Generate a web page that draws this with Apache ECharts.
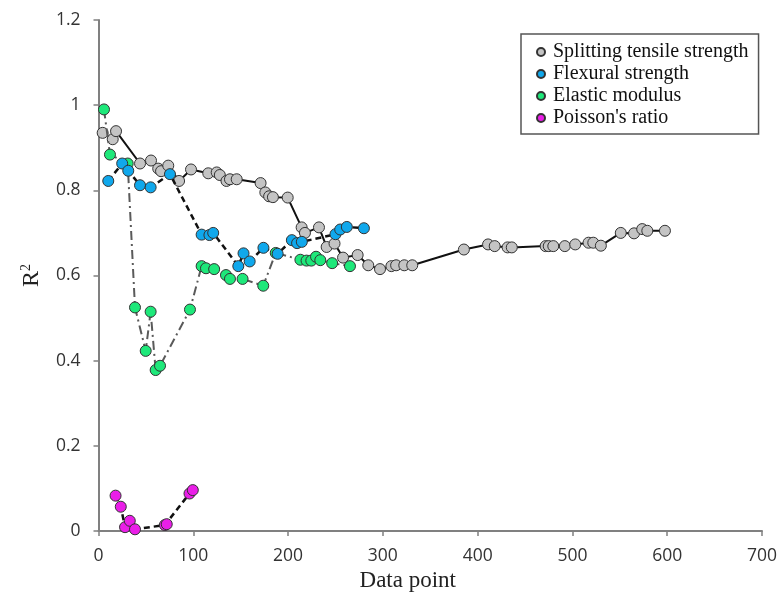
<!DOCTYPE html>
<html>
<head>
<meta charset="utf-8">
<script src="https://cdn.jsdelivr.net/npm/echarts@6/dist/echarts.min.js"></script>
<style>
html,body{margin:0;padding:0;background:#fff;}
#chart{width:779px;height:595px;}
</style>
</head>
<body>
<div id="chart"></div>
<script>
// Splitting tensile strength
const splitX = [4.4, 15, 18.5, 43.8, 55.4, 63, 66, 73.6, 85, 97.6, 115.8, 124.7, 128, 135, 138.7, 145.8, 171, 176, 180, 184, 199.6, 214.3, 217.8, 232.6, 240.7, 249, 258, 273.4, 284.6, 297, 309, 314, 322.6, 331, 385.5, 411, 418, 431.6, 436, 471.7, 475, 479.8, 492, 503, 517, 522, 530, 551, 565, 573.6, 579, 597.6];
const splitY = [0.935, 0.92, 0.939, 0.863, 0.87, 0.851, 0.845, 0.858, 0.822, 0.849, 0.84, 0.842, 0.836, 0.822, 0.826, 0.826, 0.817, 0.795, 0.786, 0.784, 0.783, 0.713, 0.700, 0.713, 0.667, 0.675, 0.642, 0.648, 0.624, 0.615, 0.622, 0.624, 0.624, 0.624, 0.661, 0.673, 0.669, 0.666, 0.666, 0.669, 0.669, 0.669, 0.669, 0.673, 0.677, 0.677, 0.670, 0.700, 0.699, 0.709, 0.705, 0.705];
// Flexural strength
const flexX = [10.3, 25, 31.4, 43.8, 55, 75.4, 108.8, 117, 121, 147.5, 153, 159.5, 174, 189, 204, 209.5, 214.5, 250, 255, 262, 280];
const flexY = [0.822, 0.863, 0.846, 0.812, 0.807, 0.838, 0.696, 0.695, 0.700, 0.622, 0.652, 0.633, 0.665, 0.651, 0.683, 0.676, 0.679, 0.697, 0.708, 0.714, 0.711];
// Elastic modulus
const elasX = [5.8, 12.1, 30.8, 38.5, 49.8, 55, 60.3, 64.9, 96.5, 108.8, 113.4, 122, 134.5, 138.7, 152, 173.8, 187, 213, 219.5, 224.5, 229.5, 234, 246.5, 265.3];
const elasY = [0.99, 0.884, 0.863, 0.525, 0.423, 0.515, 0.378, 0.388, 0.52, 0.622, 0.617, 0.615, 0.601, 0.592, 0.592, 0.576, 0.653, 0.637, 0.635, 0.635, 0.644, 0.636, 0.629, 0.622];
// Poisson's ratio
const poisX = [18, 23.5, 28, 33, 38.5, 70, 72, 96, 99.5];
const poisY = [0.083, 0.057, 0.009, 0.024, 0.004, 0.014, 0.016, 0.088, 0.096];

const xTicks = [0, 100, 200, 300, 400, 500, 600, 700];
const yTicks = [0, 0.2, 0.4, 0.6, 0.8, 1, 1.2];

const zip = (xs, ys) => xs.map((x, i) => [x, ys[i]]);

const chart = echarts.init(document.getElementById('chart'));
const marker = (fill) => ({ color: fill, borderColor: '#333', borderWidth: 1 });
chart.setOption({
  animation: false,
  backgroundColor: '#fff',
  grid: { left: 98.5, right: 17, top: 20, bottom: 64, containLabel: false, outerBoundsMode: 'none' },
  legend: {
    orient: 'vertical',
    left: 521, top: 34,
    data: ['Splitting tensile strength', 'Flexural strength', 'Elastic modulus', "Poisson's ratio"],
    icon: 'circle',
    itemWidth: 8, itemHeight: 8, itemGap: 0,
    padding: [7, 10, 5, 15],
    borderColor: '#555', borderWidth: 1.5,
    textStyle: { fontFamily: 'Liberation Serif', fontSize: 20, color: '#111', lineHeight: 22, padding: [0, 0, 0, 3] }
  },
  xAxis: {
    type: 'value', min: xTicks[0], max: xTicks[xTicks.length - 1], interval: 100,
    name: 'Data point', nameLocation: 'middle', nameGap: 38,
    nameTextStyle: { fontFamily: 'Liberation Serif', fontSize: 23, color: '#222', padding: [0, 45, 0, 0] },
    axisLine: { lineStyle: { color: '#808080', width: 2 } },
    axisTick: { show: true, length: 5, lineStyle: { color: '#808080', width: 1.5 } },
    axisLabel: { margin: 16, fontFamily: 'Open Sans', fontSize: 17.5, color: '#333' },
    splitLine: { show: false }
  },
  yAxis: {
    type: 'value', min: yTicks[0], max: yTicks[yTicks.length - 1], interval: 0.2,
    name: '{r|R}{s|2}', nameLocation: 'middle', nameGap: 55,
    nameTextStyle: { rich: {
      r: { fontFamily: 'Liberation Serif', fontSize: 24, color: '#222' },
      s: { fontFamily: 'Liberation Serif', fontSize: 14, color: '#222', verticalAlign: 'top', padding: [0, 0, 10, 0] }
    } },
    axisLine: { show: true, lineStyle: { color: '#808080', width: 2 } },
    axisTick: { show: true, length: 5, lineStyle: { color: '#808080', width: 1.5 } },
    axisLabel: { margin: 18, fontFamily: 'Open Sans', fontSize: 17.5, color: '#333' },
    splitLine: { show: false }
  },
  series: [
    {
      name: 'Splitting tensile strength', type: 'line', data: zip(splitX, splitY),
      symbol: 'circle', symbolSize: 11, itemStyle: marker('#c4c4c4'),
      lineStyle: { color: '#111', width: 2 }, z: 2
    },
    {
      name: 'Elastic modulus', type: 'line', data: zip(elasX, elasY),
      symbol: 'circle', symbolSize: 11, itemStyle: marker('#1ee87a'),
      lineStyle: { color: '#5a5a5a', width: 2, type: [9, 4, 2, 4] }, z: 3
    },
    {
      name: 'Flexural strength', type: 'line', data: zip(flexX, flexY),
      symbol: 'circle', symbolSize: 11, itemStyle: marker('#10a8ec'),
      lineStyle: { color: '#111', width: 2.5, type: [6, 4] }, z: 4
    },
    {
      name: "Poisson's ratio", type: 'line', data: zip(poisX, poisY),
      symbol: 'circle', symbolSize: 11, itemStyle: marker('#ea1ee8'),
      lineStyle: { color: '#111', width: 2.5, type: [6, 4] }, z: 5
    }
  ]
});
</script>
</body>
</html>
